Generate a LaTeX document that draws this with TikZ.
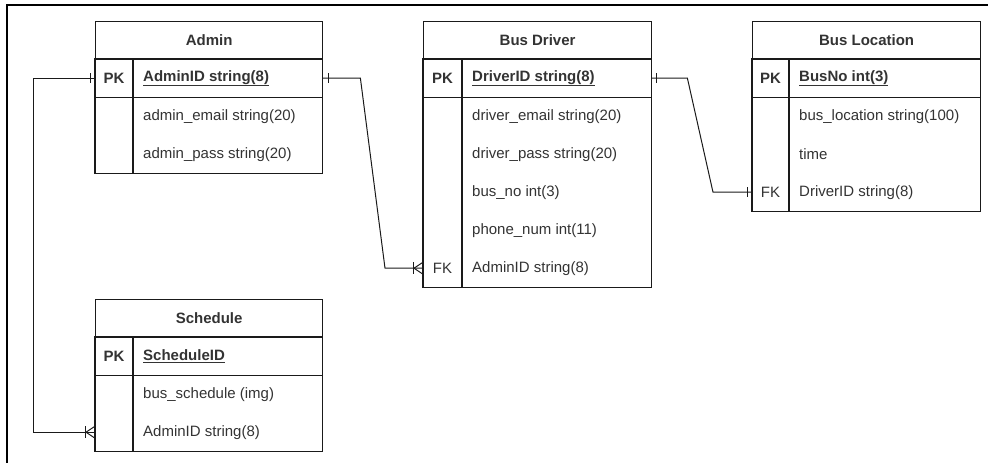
\documentclass[tikz,border=0pt]{standalone}
\usepackage{fontspec}
\setmainfont{Liberation Sans}
\usetikzlibrary{calc}
\definecolor{txtc}{HTML}{333333}
\definecolor{linec}{HTML}{1A1A1A}
\newcommand{\fs}{\fontsize{15}{18}\selectfont}
\begin{document}
\begin{tikzpicture}[x=1pt,y=-1pt,
  cell/.style={rectangle, inner sep=0pt, anchor=north west, minimum width=227pt, minimum height=38pt},
  hdr/.style={cell, draw=linec, line width=1.2pt, font=\bfseries\fs, text=txtc},
  tline/.style={draw=linec, line width=1.2pt},
  ft/.style={font=\fs, text=txtc, anchor=west, inner sep=0pt},
  key/.style={font=\fs, text=txtc, inner sep=0pt},
  pkey/.style={font=\bfseries\fs, text=txtc, inner sep=0pt},
  conn/.style={draw=linec, line width=1pt},
  frame/.style={draw=black, line width=2.5pt}]
\useasboundingbox (0,0) rectangle (988,463);
\draw[frame] (7,463) -- (7,5) -- (988,5);

% ---------- Admin ----------
\node[hdr] (admin) at (95,21) {Admin};
\node[cell] (aPK) at (95,59) {};
\node[cell] (aEmail) at (95,97) {};
\node[cell] (aPass) at (95,135) {};
\draw[tline] (aPK.north west) rectangle (aPass.south east);
\draw[tline] (aPK.south west) -- (aPK.south east);
\draw[tline] ([xshift=38pt]aPK.north west) -- ([xshift=38pt]aPass.south west);
\node[pkey] (aPKk) at ([xshift=19pt]aPK.west) {PK};
\node[ft] (aPKt) at ([xshift=48pt]aPK.west) {\textbf{\underline{AdminID string(8)}}};
\node[ft] (aEmailt) at ([xshift=48pt]aEmail.west) {admin\_email string(20)};
\node[ft] (aPasst) at ([xshift=48pt]aPass.west) {admin\_pass string(20)};

% ---------- Bus Driver ----------
\node[hdr, minimum width=228pt] (driver) at (423,21) {Bus Driver};
\node[cell, minimum width=228pt] (dPK) at (423,59) {};
\node[cell, minimum width=228pt] (dEmail) at (423,97) {};
\node[cell, minimum width=228pt] (dPass) at (423,135) {};
\node[cell, minimum width=228pt] (dBus) at (423,173) {};
\node[cell, minimum width=228pt] (dPhone) at (423,211) {};
\node[cell, minimum width=228pt] (dFK) at (423,249) {};
\draw[tline] (dPK.north west) rectangle (dFK.south east);
\draw[tline] (dPK.south west) -- (dPK.south east);
\draw[tline] ([xshift=39pt]dPK.north west) -- ([xshift=39pt]dFK.south west);
\node[pkey] (dPKk) at ([xshift=19.5pt]dPK.west) {PK};
\node[ft] (dPKt) at ([xshift=49pt]dPK.west) {\textbf{\underline{DriverID string(8)}}};
\node[ft] (dEmailt) at ([xshift=49pt]dEmail.west) {driver\_email string(20)};
\node[ft] (dPasst) at ([xshift=49pt]dPass.west) {driver\_pass string(20)};
\node[ft] (dBust) at ([xshift=49pt]dBus.west) {bus\_no int(3)};
\node[ft] (dPhonet) at ([xshift=49pt]dPhone.west) {phone\_num int(11)};
\node[key] (dFKk) at ([xshift=19.5pt]dFK.west) {FK};
\node[ft] (dFKt) at ([xshift=49pt]dFK.west) {AdminID string(8)};

% ---------- Bus Location ----------
\node[hdr, minimum width=228pt] (loc) at (752,21) {Bus Location};
\node[cell, minimum width=228pt] (lPK) at (752,59) {};
\node[cell, minimum width=228pt] (lLoc) at (752,97) {};
\node[cell, minimum width=228pt] (lTime) at (752,135) {};
\node[cell, minimum width=228pt] (lFK) at (752,173) {};
\draw[tline] (lPK.north west) rectangle (lFK.south east);
\draw[tline] (lPK.south west) -- (lPK.south east);
\draw[tline] ([xshift=37pt]lPK.north west) -- ([xshift=37pt]lFK.south west);
\node[pkey] (lPKk) at ([xshift=18.5pt]lPK.west) {PK};
\node[ft] (lPKt) at ([xshift=47pt]lPK.west) {\textbf{\underline{BusNo int(3)}}};
\node[ft] (lLoct) at ([xshift=47pt]lLoc.west) {bus\_location string(100)};
\node[ft] (lTimet) at ([xshift=47pt]lTime.west) {time};
\node[key] (lFKk) at ([xshift=18.5pt]lFK.west) {FK};
\node[ft] (lFKt) at ([xshift=47pt]lFK.west) {DriverID string(8)};

% ---------- Schedule ----------
\node[hdr] (sched) at (95,299) {Schedule};
\node[cell] (sPK) at (95,337) {};
\node[cell] (sImg) at (95,375) {};
\node[cell] (sAdmin) at (95,413) {};
\draw[tline] (sPK.north west) rectangle (sAdmin.south east);
\draw[tline] (sPK.south west) -- (sPK.south east);
\draw[tline] ([xshift=38pt]sPK.north west) -- ([xshift=38pt]sAdmin.south west);
\node[pkey] (sPKk) at ([xshift=19pt]sPK.west) {PK};
\node[ft] (sPKt) at ([xshift=48pt]sPK.west) {\textbf{\underline{ScheduleID}}};
\node[ft] (sImgt) at ([xshift=48pt]sImg.west) {bus\_schedule (img)};
\node[ft] (sAdmint) at ([xshift=48pt]sAdmin.west) {AdminID string(8)};

% ---------- Connectors ----------
% Admin -> Schedule
\draw[conn] (aPK.west) -- ($(aPK.west)+(-62,0)$) |- (sAdmin.west);
\draw[conn] ([xshift=-5pt,yshift=5pt]aPK.west) -- ++(0,10);
\draw[conn] ([xshift=-10pt,yshift=6pt]sAdmin.west) -- ++(0,12);
\draw[conn] ([xshift=-9pt]sAdmin.west) -- ([yshift=-6pt]sAdmin.west);
\draw[conn] ([xshift=-9pt]sAdmin.west) -- ([yshift=6pt]sAdmin.west);

% Admin -> Bus Driver
\draw[conn] (aPK.east) -- ++(38,0) -- ($(dFK.west)+(-38,0)$) -- (dFK.west);
\draw[conn] ([xshift=6pt,yshift=5pt]aPK.east) -- ++(0,10);
\draw[conn] ([xshift=-10pt,yshift=6pt]dFK.west) -- ++(0,12);
\draw[conn] ([xshift=-9pt]dFK.west) -- ([yshift=-6pt]dFK.west);
\draw[conn] ([xshift=-9pt]dFK.west) -- ([yshift=6pt]dFK.west);

% Bus Driver -> Bus Location
\draw[conn] (dPK.east) -- ++(36,0) -- ($(lFK.west)+(-39,0)$) -- (lFK.west);
\draw[conn] ([xshift=5pt,yshift=5pt]dPK.east) -- ++(0,10);
\draw[conn] ([xshift=-5pt,yshift=5pt]lFK.west) -- ++(0,10);
\end{tikzpicture}
\end{document}
